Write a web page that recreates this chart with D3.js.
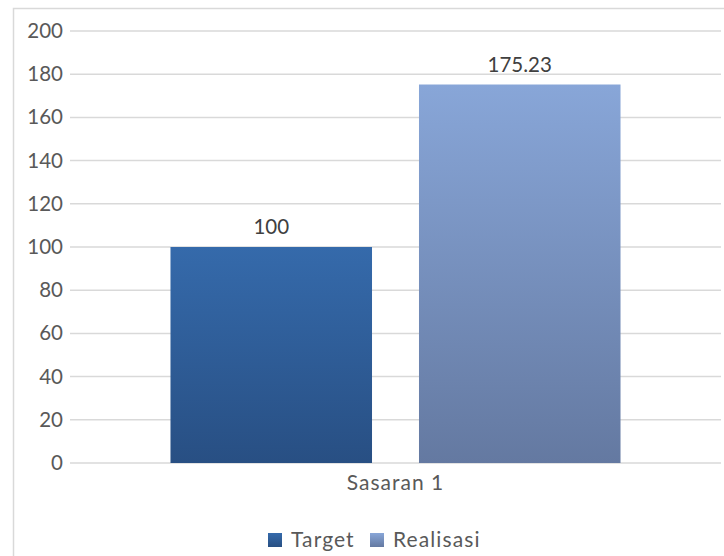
<!DOCTYPE html>
<html>
<head>
<meta charset="utf-8">
<script src="https://cdn.jsdelivr.net/npm/d3@7"></script>
<style>
  body { margin: 0; background: #fff; }
  svg { display: block; font-family: Lato, "Open Sans", sans-serif; }
</style>
</head>
<body>
<svg width="724" height="556"></svg>
<script>
// Chart data
var categories = ['Sasaran 1'];
var seriesNames = ['Target', 'Realisasi'];
var targetValues = [100];
var realisasiValues = [175.23];
var yTicks = [0, 20, 40, 60, 80, 100, 120, 140, 160, 180, 200];

// Colours for each series (top and bottom of the gradient)
var colors = {
  Target: ['#356aab', '#284f83'],
  Realisasi: ['#88a6d8', '#6479a1']
};

var svg = d3.select('svg');

// Chart border
svg.append('rect')
  .attr('x', 13.5).attr('y', 8.5)
  .attr('width', 740).attr('height', 600)
  .attr('fill', '#fff')
  .attr('stroke', '#d9d9d9')
  .attr('stroke-width', 1.5);

// Gradients
var defs = svg.append('defs');
seriesNames.forEach(function(name) {
  var g = defs.append('linearGradient')
    .attr('id', 'grad-' + name)
    .attr('x1', 0).attr('y1', 0).attr('x2', 0).attr('y2', 1);
  g.append('stop').attr('offset', '0%').attr('stop-color', colors[name][0]);
  g.append('stop').attr('offset', '100%').attr('stop-color', colors[name][1]);
});

// Scales
var plotLeft = 70, plotRight = 721;
var y = d3.scaleLinear().domain([0, 200]).range([463, 31]);
var x0 = d3.scaleBand().domain(categories).range([plotLeft, plotRight]).paddingInner(0).paddingOuter(0.2233);
var x1 = d3.scaleBand().domain(seriesNames).range([0, x0.bandwidth()]).paddingInner(0.189);

// Gridlines
svg.append('g')
  .selectAll('line')
  .data(yTicks).enter()
  .append('line')
  .attr('x1', plotLeft).attr('x2', plotRight)
  .attr('y1', d => y(d)).attr('y2', d => y(d))
  .attr('stroke', '#d9d9d9')
  .attr('stroke-width', 1.5);

// Y axis labels
var yAxis = d3.axisLeft(y).tickValues(yTicks).tickSize(0).tickPadding(0);
var yG = svg.append('g').attr('transform', 'translate(63,0)').call(yAxis);
yG.select('.domain').remove();
yG.selectAll('text')
  .attr('fill', '#595959')
  .style('font-size', '20.5px')
  .style('font-family', 'Lato, sans-serif');

// Bars
var rows = categories.map(function(c, i) {
  return { category: c, values: [
    { name: 'Target', value: targetValues[i] },
    { name: 'Realisasi', value: realisasiValues[i] }
  ]};
});

var groups = svg.selectAll('.cat')
  .data(rows).enter()
  .append('g')
  .attr('transform', d => 'translate(' + x0(d.category) + ',0)');

groups.selectAll('rect')
  .data(d => d.values).enter()
  .append('rect')
  .attr('x', d => x1(d.name))
  .attr('width', x1.bandwidth())
  .attr('y', d => y(d.value))
  .attr('height', d => y(0) - y(d.value))
  .attr('fill', d => 'url(#grad-' + d.name + ')');

// Data labels
groups.selectAll('.lbl')
  .data(d => d.values).enter()
  .append('text')
  .attr('x', d => x1(d.name) + x1.bandwidth() / 2)
  .attr('y', d => y(d.value) - 13)
  .attr('text-anchor', 'middle')
  .attr('fill', '#404040')
  .style('font-size', '20.5px')
  .text(d => d.value);

// Category labels
svg.selectAll('.cat-label')
  .data(categories).enter()
  .append('text')
  .attr('x', d => x0(d) + x0.bandwidth() / 2)
  .attr('y', 490)
  .attr('text-anchor', 'middle')
  .attr('fill', '#595959')
  .style('font-size', '21px')
  .style('letter-spacing', '1px')
  .text(d => d);

// Legend
var legendX = [268, 370];
var legend = svg.selectAll('.legend')
  .data(seriesNames).enter()
  .append('g')
  .attr('transform', (d, i) => 'translate(' + legendX[i] + ',533)');
legend.append('rect')
  .attr('width', 14).attr('height', 14)
  .attr('fill', d => 'url(#grad-' + d + ')');
legend.append('text')
  .attr('x', 23).attr('y', 14)
  .attr('fill', '#595959')
  .style('font-size', '21px')
  .style('letter-spacing', '1.1px')
  .text(d => d);
</script>
</body>
</html>
